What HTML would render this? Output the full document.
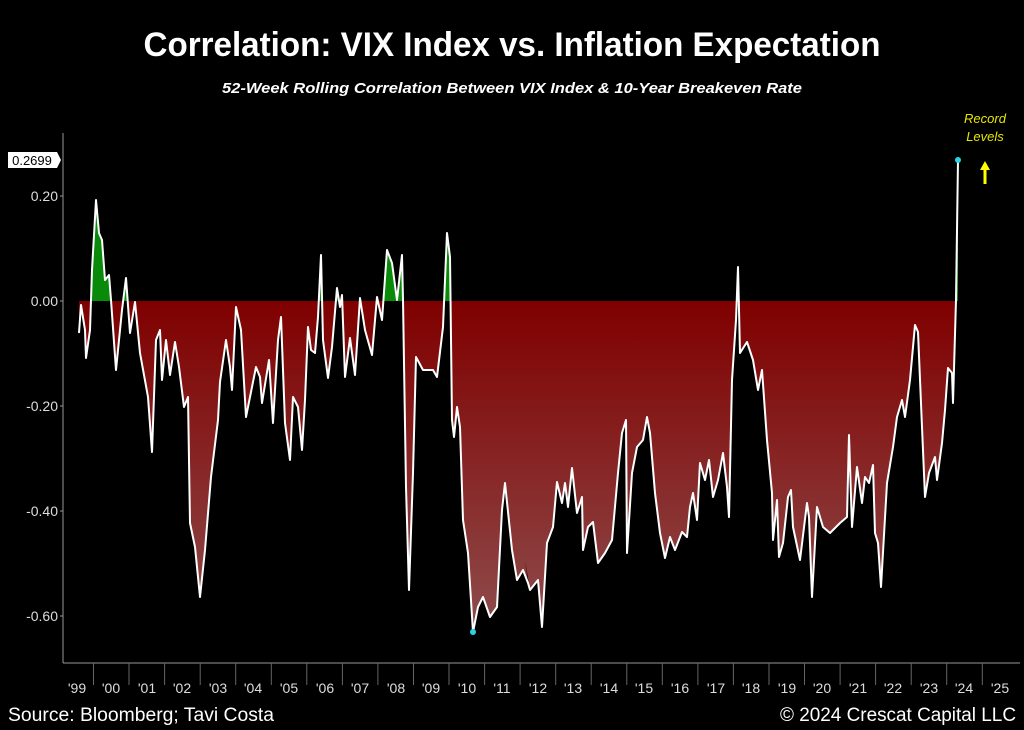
<!DOCTYPE html>
<html><head><meta charset="utf-8"><style>
html,body{margin:0;padding:0;background:#000;}
svg{display:block;}
text{font-family:"Liberation Sans",sans-serif;}
</style></head><body>
<svg width="1024" height="730" viewBox="0 0 1024 730" xmlns="http://www.w3.org/2000/svg">
<defs>
<linearGradient id="rg" gradientUnits="userSpaceOnUse" x1="0" y1="301" x2="0" y2="632">
<stop offset="0" stop-color="#800000"/><stop offset="1" stop-color="#8e4c4c"/>
</linearGradient>
<clipPath id="below"><rect x="60" y="301" width="960" height="400"/></clipPath>
<clipPath id="above"><rect x="60" y="100" width="960" height="201"/></clipPath>
</defs>
<rect width="1024" height="730" fill="#000"/>
<text x="512" y="56" text-anchor="middle" fill="#fff" font-size="34" font-weight="bold" textLength="737" lengthAdjust="spacingAndGlyphs">Correlation: VIX Index vs. Inflation Expectation</text>
<text x="512" y="93" text-anchor="middle" fill="#fff" font-size="15" font-weight="bold" font-style="italic" textLength="580" lengthAdjust="spacingAndGlyphs">52-Week Rolling Correlation Between VIX Index &amp; 10-Year Breakeven Rate</text>

<g id="series">
<polygon id="area" points="79,301 79,333 81,305 85,330 86,358 90,330 92,270 96,200 99,233 102,240 105,280 109,275 111,300 116,370 122,310 126,278 130,333 135,302 140,353 148,397 152,452 156,340 160,330 162,380 166,340 170,375 175,342 179,367 184,407 188,397 190,523 195,547 200,597 205,550 211,477 218,420 220,382 226,340 230,367 232,390 236,307 241,330 246,417 250,397 256,367 260,377 262,403 269,360 273,423 278,340 281,317 285,423 290,460 293,397 298,407 302,450 305,400 308,327 311,350 315,353 318,317 321,255 323,340 328,378 332,347 337,288 340,307 342,295 345,377 350,338 355,375 360,298 365,330 372,355 377,297 382,320 387,250 392,263 397,300 402,255 403,300 406,487 409,590 413,473 416,357 423,370 433,370 437,377 443,327 447,233 450,257 452,420 454,437 457,407 460,427 463,520 468,553 473,632 478,607 483,597 490,617 497,607 502,510 505,483 512,550 517,580 523,570 528,583 525,560 530,590 538,580 542,627 547,543 553,527 557,482 562,503 565,483 568,507 572,468 577,513 582,497 583,550 588,527 593,522 598,563 605,553 612,540 618,473 622,433 626,420 627,553 632,473 637,447 643,440 647,417 650,433 655,493 660,533 665,558 670,537 675,550 682,532 687,537 690,507 693,493 697,520 700,463 705,480 709,460 713,497 718,480 723,453 727,487 729,517 732,380 736,320 738,267 740,353 747,342 753,360 758,390 762,370 767,440 772,493 773,540 777,500 779,557 783,543 788,497 791,490 793,527 800,560 807,503 809,517 812,597 817,507 823,527 830,533 840,523 847,517 849,435 852,527 857,467 862,503 865,477 869,483 873,465 875,533 878,543 881,587 887,483 893,447 897,417 902,400 905,417 910,380 915,325 918,332 922,427 925,497 929,473 935,457 937,480 942,443 945,410 948,368 952,373 953,403 956,300 958,160 958,301" fill="url(#rg)" clip-path="url(#below)"/>
</g>
<use href="#area" fill="#0a8a0a" clip-path="url(#above)"/>
<polygon points="79,301 79,333 81,305 85,330 86,358 90,330 92,270 96,200 99,233 102,240 105,280 109,275 111,300 116,370 122,310 126,278 130,333 135,302 140,353 148,397 152,452 156,340 160,330 162,380 166,340 170,375 175,342 179,367 184,407 188,397 190,523 195,547 200,597 205,550 211,477 218,420 220,382 226,340 230,367 232,390 236,307 241,330 246,417 250,397 256,367 260,377 262,403 269,360 273,423 278,340 281,317 285,423 290,460 293,397 298,407 302,450 305,400 308,327 311,350 315,353 318,317 321,255 323,340 328,378 332,347 337,288 340,307 342,295 345,377 350,338 355,375 360,298 365,330 372,355 377,297 382,320 387,250 392,263 397,300 402,255 403,300 406,487 409,590 413,473 416,357 423,370 433,370 437,377 443,327 447,233 450,257 452,420 454,437 457,407 460,427 463,520 468,553 473,632 478,607 483,597 490,617 497,607 502,510 505,483 512,550 517,580 523,570 528,583 525,560 530,590 538,580 542,627 547,543 553,527 557,482 562,503 565,483 568,507 572,468 577,513 582,497 583,550 588,527 593,522 598,563 605,553 612,540 618,473 622,433 626,420 627,553 632,473 637,447 643,440 647,417 650,433 655,493 660,533 665,558 670,537 675,550 682,532 687,537 690,507 693,493 697,520 700,463 705,480 709,460 713,497 718,480 723,453 727,487 729,517 732,380 736,320 738,267 740,353 747,342 753,360 758,390 762,370 767,440 772,493 773,540 777,500 779,557 783,543 788,497 791,490 793,527 800,560 807,503 809,517 812,597 817,507 823,527 830,533 840,523 847,517 849,435 852,527 857,467 862,503 865,477 869,483 873,465 875,533 878,543 881,587 887,483 893,447 897,417 902,400 905,417 910,380 915,325 918,332 922,427 925,497 929,473 935,457 937,480 942,443 945,410 948,368 952,373 953,403 956,300 958,160 958,301" fill="#0a8a0a" clip-path="url(#above)"/>
<polyline points="79,333 81,305 85,330 86,358 90,330 92,270 96,200 99,233 102,240 105,280 109,275 111,300 116,370 122,310 126,278 130,333 135,302 140,353 148,397 152,452 156,340 160,330 162,380 166,340 170,375 175,342 179,367 184,407 188,397 190,523 195,547 200,597 205,550 211,477 218,420 220,382 226,340 230,367 232,390 236,307 241,330 246,417 250,397 256,367 260,377 262,403 269,360 273,423 278,340 281,317 285,423 290,460 293,397 298,407 302,450 305,400 308,327 311,350 315,353 318,317 321,255 323,340 328,378 332,347 337,288 340,307 342,295 345,377 350,338 355,375 360,298 365,330 372,355 377,297 382,320 387,250 392,263 397,300 402,255 403,300 406,487 409,590 413,473 416,357 423,370 433,370 437,377 443,327 447,233 450,257 452,420 454,437 457,407 460,427 463,520 468,553 473,632 478,607 483,597 490,617 497,607 502,510 505,483 512,550 517,580 523,570 528,583 530,590 538,580 542,627 547,543 553,527 557,482 562,503 565,483 568,507 572,468 577,513 582,497 583,550 588,527 593,522 598,563 605,553 612,540 618,473 622,433 626,420 627,553 632,473 637,447 643,440 647,417 650,433 655,493 660,533 665,558 670,537 675,550 682,532 687,537 690,507 693,493 697,520 700,463 705,480 709,460 713,497 718,480 723,453 727,487 729,517 732,380 736,320 738,267 740,353 747,342 753,360 758,390 762,370 767,440 772,493 773,540 777,500 779,557 783,543 788,497 791,490 793,527 800,560 807,503 809,517 812,597 817,507 823,527 830,533 840,523 847,517 849,435 852,527 857,467 862,503 865,477 869,483 873,465 875,533 878,543 881,587 887,483 893,447 897,417 902,400 905,417 910,380 915,325 918,332 922,427 925,497 929,473 935,457 937,480 942,443 945,410 948,368 952,373 953,403 956,300 958,160" fill="none" stroke="#fff" stroke-width="2" stroke-linejoin="round"/>
<circle cx="958" cy="160" r="3" fill="#2ad4e0"/>
<circle cx="473" cy="632" r="3" fill="#2ad4e0"/>

<!-- axes -->
<line x1="63" y1="133" x2="63" y2="663" stroke="#999" stroke-width="1"/>
<line x1="63" y1="663" x2="1020" y2="663" stroke="#999" stroke-width="1"/>
<g stroke="#999"><line x1="60" y1="196" x2="63" y2="196"/><line x1="60" y1="301" x2="63" y2="301"/><line x1="60" y1="406" x2="63" y2="406"/><line x1="60" y1="511" x2="63" y2="511"/><line x1="60" y1="616" x2="63" y2="616"/></g>
<g fill="#ddd" font-size="14" text-anchor="end">
<text x="58" y="201">0.20</text><text x="58" y="306">0.00</text><text x="58" y="411">-0.20</text><text x="58" y="516">-0.40</text><text x="58" y="621">-0.60</text>
</g>
<path d="M8,152 H57 L61,160 L57,168 H8 Z" fill="#fff"/>
<text x="32" y="165" text-anchor="middle" font-size="13" fill="#000">0.2699</text>

<g stroke="#666" stroke-width="1">
<line x1="93.5" y1="663" x2="93.5" y2="685"/><line x1="129" y1="663" x2="129" y2="685"/><line x1="164.6" y1="663" x2="164.6" y2="685"/><line x1="200.2" y1="663" x2="200.2" y2="685"/><line x1="235.7" y1="663" x2="235.7" y2="685"/><line x1="271.3" y1="663" x2="271.3" y2="685"/><line x1="306.8" y1="663" x2="306.8" y2="685"/><line x1="342.4" y1="663" x2="342.4" y2="685"/><line x1="377.9" y1="663" x2="377.9" y2="685"/><line x1="413.5" y1="663" x2="413.5" y2="685"/><line x1="449" y1="663" x2="449" y2="685"/><line x1="484.6" y1="663" x2="484.6" y2="685"/><line x1="520.1" y1="663" x2="520.1" y2="685"/><line x1="555.7" y1="663" x2="555.7" y2="685"/><line x1="591.2" y1="663" x2="591.2" y2="685"/><line x1="626.8" y1="663" x2="626.8" y2="685"/><line x1="662.3" y1="663" x2="662.3" y2="685"/><line x1="697.9" y1="663" x2="697.9" y2="685"/><line x1="733.4" y1="663" x2="733.4" y2="685"/><line x1="769" y1="663" x2="769" y2="685"/><line x1="804.5" y1="663" x2="804.5" y2="685"/><line x1="840.1" y1="663" x2="840.1" y2="685"/><line x1="875.6" y1="663" x2="875.6" y2="685"/><line x1="911.2" y1="663" x2="911.2" y2="685"/><line x1="946.7" y1="663" x2="946.7" y2="685"/><line x1="982.3" y1="663" x2="982.3" y2="685"/>
</g>
<g fill="#ddd" font-size="14" text-anchor="middle">
<text x="77" y="693">'99</text><text x="111" y="693">'00</text><text x="147" y="693">'01</text><text x="182" y="693">'02</text><text x="218" y="693">'03</text><text x="253" y="693">'04</text><text x="289" y="693">'05</text><text x="325" y="693">'06</text><text x="360" y="693">'07</text><text x="396" y="693">'08</text><text x="431" y="693">'09</text><text x="467" y="693">'10</text><text x="502" y="693">'11</text><text x="538" y="693">'12</text><text x="573" y="693">'13</text><text x="609" y="693">'14</text><text x="644" y="693">'15</text><text x="680" y="693">'16</text><text x="716" y="693">'17</text><text x="751" y="693">'18</text><text x="787" y="693">'19</text><text x="822" y="693">'20</text><text x="858" y="693">'21</text><text x="893" y="693">'22</text><text x="929" y="693">'23</text><text x="964" y="693">'24</text><text x="1000" y="693">'25</text>
</g>
<text x="8" y="721" fill="#fff" font-size="19" textLength="266" lengthAdjust="spacingAndGlyphs">Source: Bloomberg; Tavi Costa</text>
<text x="1016" y="721" fill="#fff" font-size="19" text-anchor="end" textLength="236" lengthAdjust="spacingAndGlyphs">© 2024 Crescat Capital LLC</text>

<g fill="#e6e600" font-size="13" font-style="italic" text-anchor="middle">
<text x="985" y="123">Record</text><text x="985" y="141">Levels</text>
</g>
<path d="M985,161 L980,170 H983.5 V184 H986.5 V170 H990 Z" fill="#ffff00"/>
</svg>
</body></html>
